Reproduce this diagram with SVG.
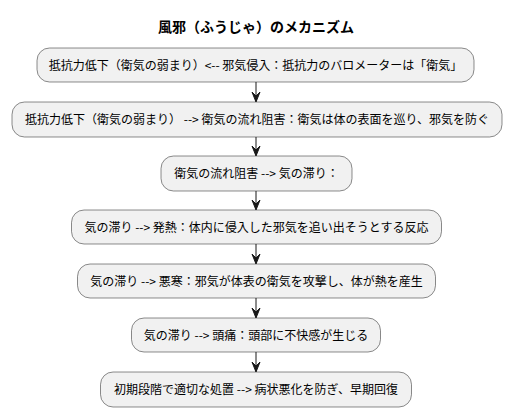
<svg xmlns="http://www.w3.org/2000/svg" width="511" height="416" viewBox="0 0 511 416">
<defs>
<style>
.box{fill:#F1F1F1;stroke:#181818;stroke-width:0.5}
.t{font-family:"Noto Sans CJK JP","Noto Sans",sans-serif;font-size:12px;fill:#000;text-anchor:middle}
.title{font-family:"Noto Sans CJK JP","Noto Sans",sans-serif;font-size:14px;font-weight:bold;fill:#000;text-anchor:middle}
.ln{stroke:#181818;stroke-width:1;fill:none}
.ah{fill:#181818;stroke:#181818;stroke-width:1}
</style>
</defs>
<rect width="511" height="416" fill="#FFFFFF"/>
<text class="title" x="256" y="32">風邪（ふうじゃ）のメカニズム</text>
<g id="connectors">
<line class="ln" x1="256" y1="82" x2="256" y2="101"/>
<polygon class="ah" points="252,92 256,102 260,92 256,96"/>
<line class="ln" x1="256" y1="137" x2="256" y2="155"/>
<polygon class="ah" points="252,146 256,156 260,146 256,150"/>
<line class="ln" x1="256" y1="191" x2="256" y2="209"/>
<polygon class="ah" points="252,200 256,210 260,200 256,204"/>
<line class="ln" x1="256" y1="244" x2="256" y2="263"/>
<polygon class="ah" points="252,254 256,264 260,254 256,258"/>
<line class="ln" x1="256" y1="298" x2="256" y2="317"/>
<polygon class="ah" points="252,308 256,318 260,308 256,312"/>
<line class="ln" x1="256" y1="352" x2="256" y2="371"/>
<polygon class="ah" points="252,362 256,372 260,362 256,366"/>
</g>
<g id="n1"><rect class="box" x="37" y="48" width="437" height="34" rx="12.5"/><text class="t" x="255.5" y="69.5">抵抗力低下（衛気の弱まり）&lt;-- 邪気侵入：抵抗力のバロメーターは「衛気」</text></g>
<g id="n2"><rect class="box" x="12" y="102" width="490" height="35" rx="12.5"/><text class="t" x="257" y="124">抵抗力低下（衛気の弱まり） --&gt; 衛気の流れ阻害：衛気は体の表面を巡り、邪気を防ぐ</text></g>
<g id="n3"><rect class="box" x="161" y="156" width="191" height="35" rx="12.5"/><text class="t" x="256.5" y="178">衛気の流れ阻害 --&gt; 気の滞り：</text></g>
<g id="n4"><rect class="box" x="71.5" y="210" width="370" height="34" rx="12.5"/><text class="t" x="256.5" y="231.5">気の滞り --&gt; 発熱：体内に侵入した邪気を追い出そうとする反応</text></g>
<g id="n5"><rect class="box" x="77.5" y="264" width="358" height="34" rx="12.5"/><text class="t" x="256.5" y="285.5">気の滞り --&gt; 悪寒：邪気が体表の衛気を攻撃し、体が熱を産生</text></g>
<g id="n6"><rect class="box" x="131.5" y="318" width="249" height="34" rx="12.5"/><text class="t" x="256" y="339.5">気の滞り --&gt; 頭痛：頭部に不快感が生じる</text></g>
<g id="n7"><rect class="box" x="100.5" y="372" width="311" height="35" rx="12.5"/><text class="t" x="256" y="394">初期段階で適切な処置 --&gt; 病状悪化を防ぎ、早期回復</text></g>
</svg>
